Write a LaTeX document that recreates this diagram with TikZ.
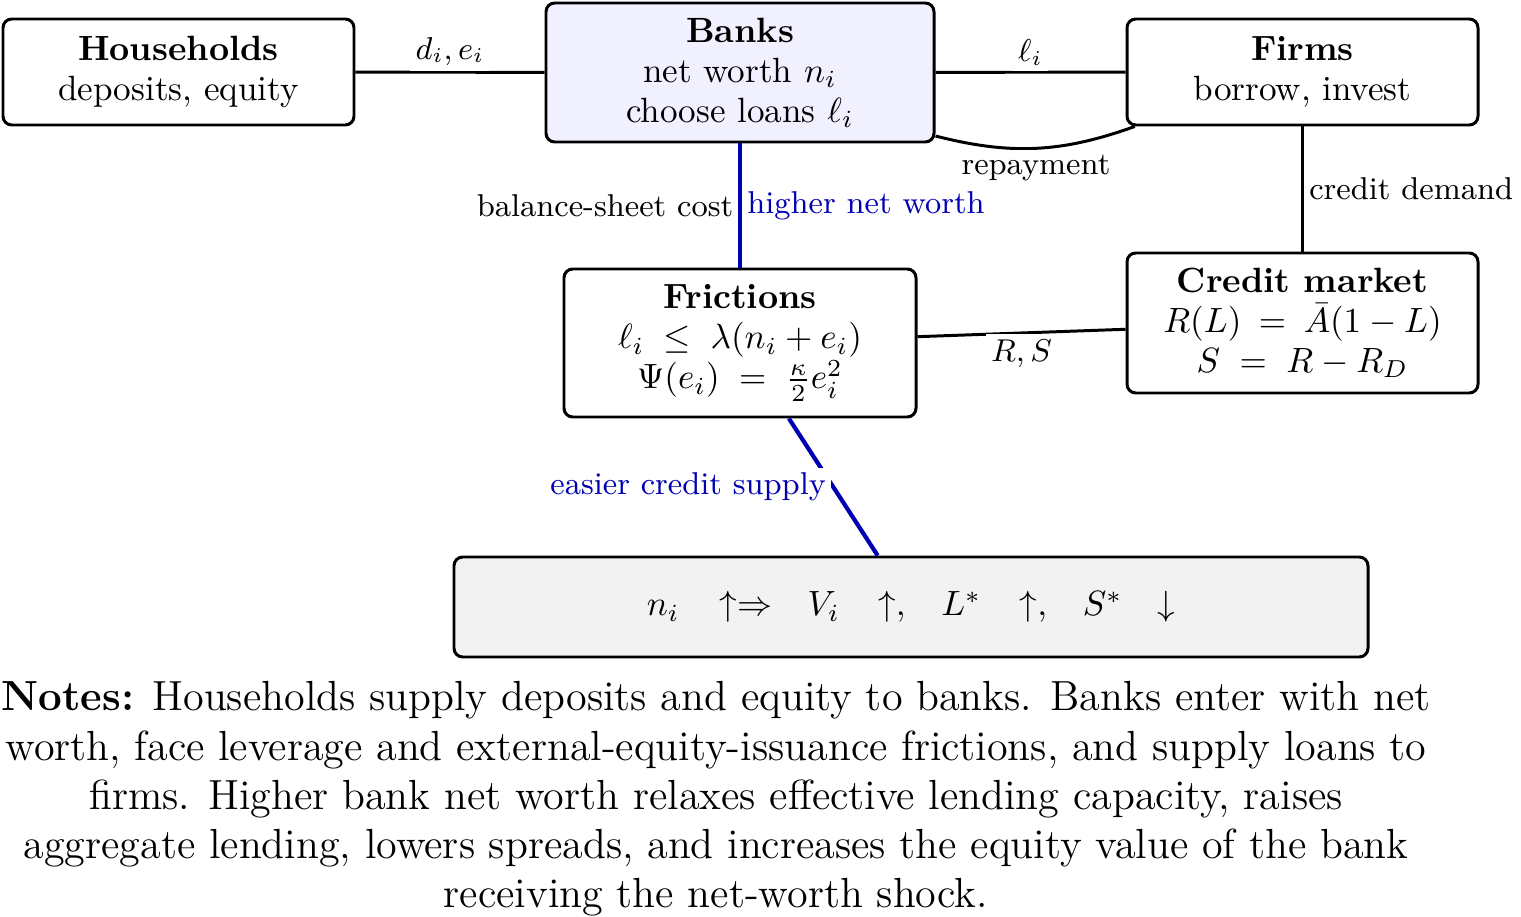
\documentclass[tikz,border=0pt]{standalone}
\usepackage{amsmath}
\def\pxl{0.285pt}
\definecolor{bluec}{rgb}{0,0,0.70}
\begin{document}
\begin{tikzpicture}[x=0.285pt,y=-0.285pt,
  box/.style={draw, line width=0.85pt, rounded corners=2.5pt, align=center, inner sep=2pt,
    font=\fontsize{10pt}{11.4pt}\selectfont},
  conn/.style={draw, line width=0.85pt},
  bl/.style={draw, bluec, line width=1.2pt},
  lab/.style={font=\small, fill=white, inner sep=1.5pt}]
\useasboundingbox (0,0) rectangle (1521,917);

\node[box, minimum width=351*\pxl, minimum height=106*\pxl] (hh) at (178.5,72)
  {\textbf{Households}\\deposits, equity};
\node[box, fill=blue!6, minimum width=388*\pxl, minimum height=139*\pxl] (banks) at (740,72.5)
  {\textbf{Banks}\\net worth $n_i$\\choose loans $\ell_i$};
\node[box, minimum width=351*\pxl, minimum height=106*\pxl] (firms) at (1302.5,72)
  {\textbf{Firms}\\borrow, invest};
\node[box, minimum width=352*\pxl, minimum height=148*\pxl] (fr) at (740,343)
  {\textbf{Frictions}\\$\ell_i \;\le\; \lambda(n_i+e_i)$\\$\Psi(e_i) \;=\; \frac{\kappa}{2}e_i^2$};
\node[box, minimum width=351*\pxl, minimum height=140*\pxl] (cm) at (1302.5,323)
  {\textbf{Credit market}\\$R(L) \:=\: \bar{A}(1-L)$\\$S \;=\; R-R_D$};
\node[box, fill=gray!10, minimum width=914*\pxl, minimum height=100*\pxl] (res) at (911,607)
  {$n_i\hspace{11.5pt}{\uparrow}{\Rightarrow}\hspace{10pt}V_i\hspace{11pt}{\uparrow},\hspace{8.5pt}L^*\hspace{11pt}{\uparrow},\hspace{8.5pt}S^*\hspace{10pt}{\downarrow}$};

\draw[conn] (hh) -- node[lab, above]{$d_i, e_i$} (banks);
\draw[conn] (banks) -- node[lab, above]{$\ell_i$} (firms);
\draw[conn] (banks.-18) to[bend right=17] node[lab, below]{repayment} (firms.198);
\draw[conn] (firms) -- node[lab, right]{credit demand} (cm);
\draw[conn] (fr) -- node[lab, left]{balance-sheet cost} (banks);
\draw[bl] (banks) -- node[lab, right, text=bluec]{higher net worth} (fr);
\draw[conn] (fr) -- node[lab, below]{$R, S$} (cm);
\draw[bl] (fr) -- node[lab, left, text=bluec]{easier credit supply} (res);

\node[anchor=north, align=center, inner sep=0pt, font=\large] (notes) at (716,681)
  {\textbf{Notes:} Households supply deposits and equity to banks. Banks enter with net\\
   worth, face leverage and external-equity-issuance frictions, and supply loans to\\
   firms. Higher bank net worth relaxes effective lending capacity, raises\\
   aggregate lending, lowers spreads, and increases the equity value of the bank\\
   receiving the net-worth shock.};
\end{tikzpicture}
\end{document}
